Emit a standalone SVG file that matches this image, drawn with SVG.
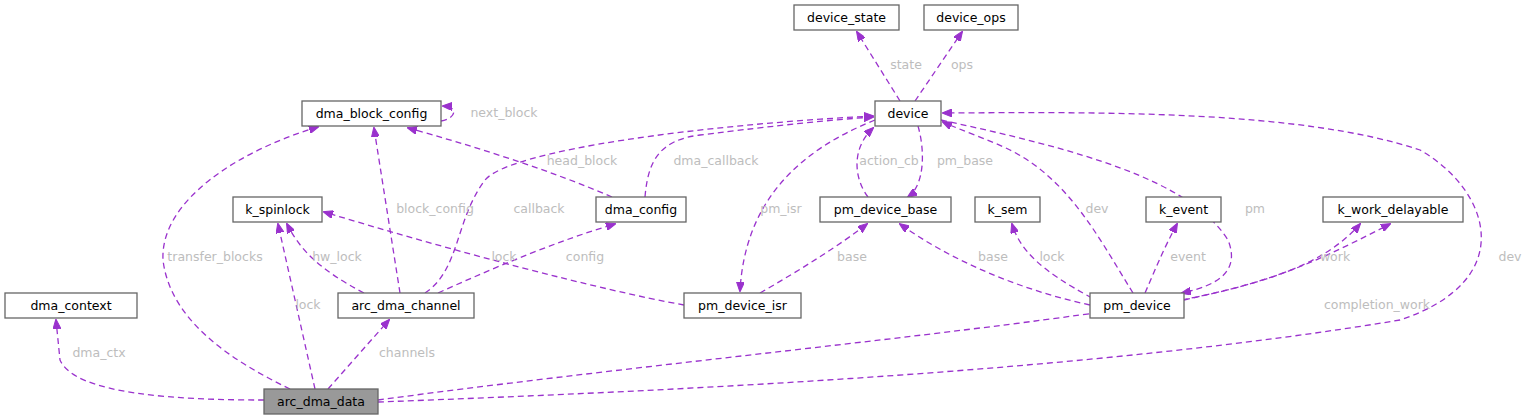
<svg xmlns="http://www.w3.org/2000/svg" width="1532" height="420" viewBox="0 0 1532 420">
<style>
.n rect{fill:#fff;stroke:#666;stroke-width:1.3}
.n text{font-family:"DejaVu Sans",sans-serif;font-size:12.5px;fill:#000;text-anchor:middle}
.e path{fill:none;stroke:#9a32cd;stroke-width:1.3;stroke-dasharray:6,4;marker-end:url(#a)}
.l text{font-family:"DejaVu Sans",sans-serif;font-size:12.5px;fill:#bdbdbd;text-anchor:middle}
</style>
<defs><marker id="a" markerWidth="10" markerHeight="8" refX="9" refY="4" orient="auto" markerUnits="userSpaceOnUse"><path d="M0,0L10,4L0,8Z" fill="#9a32cd" stroke="#9a32cd"/></marker></defs>
<rect width="1532" height="420" fill="#fff"/>
<g class="e">
<path d="M264,400C180,400 75,395 60,360L56,320"/>
<path d="M290,389C230,360 170,320 163,260C160,200 240,150 318,127"/>
<path d="M315,389L278,224"/>
<path d="M328,389L389,320"/>
<path d="M378,400C600,370 900,340 1080,315C1250,295 1300,270 1390,224"/>
<path d="M378,402C700,390 1100,370 1400,320C1520,280 1490,190 1420,150C1300,110 1100,112 943,113"/>
<path d="M400,293L374,128"/>
<path d="M364,293C320,270 300,250 287,224"/>
<path d="M438,293C500,265 560,240 615,224"/>
<path d="M425,293C460,270 455,220 485,180C510,150 700,125 873,116"/>
<path d="M612,197C550,170 470,145 408,128"/>
<path d="M645,197C648,160 660,140 700,135C780,125 830,120 873,117"/>
<path d="M441,121C455,119 460,107 443,106"/>
<path d="M900,101L857,32"/>
<path d="M915,101L962,32"/>
<path d="M875,120C800,150 745,200 740,291"/>
<path d="M918,126C925,150 925,185 908,197"/>
<path d="M868,197C855,180 850,150 873,128"/>
<path d="M760,293C800,270 840,245 867,224"/>
<path d="M684,305C600,290 450,250 324,212"/>
<path d="M1090,305C1020,290 950,260 900,224"/>
<path d="M1092,298C1040,270 1020,250 1012,224"/>
<path d="M1145,293C1155,270 1163,250 1177,224"/>
<path d="M1184,300C1250,285 1320,270 1360,224"/>
<path d="M1133,293C1100,240 1070,180 1010,150C990,140 960,130 943,122"/>
<path d="M941,120C1080,150 1190,180 1228,240C1240,270 1220,285 1182,293"/>
</g>
<g class="l">
<text x="99" y="357">dma_ctx</text>
<text x="215" y="261">transfer_blocks</text>
<text x="308" y="309">lock</text>
<text x="407" y="357">channels</text>
<text x="1377" y="309">completion_work</text>
<text x="1510" y="261">dev</text>
<text x="435" y="213">block_config</text>
<text x="337" y="261">hw_lock</text>
<text x="585" y="261">config</text>
<text x="539" y="213">callback</text>
<text x="582" y="165">head_block</text>
<text x="716" y="165">dma_callback</text>
<text x="504" y="117">next_block</text>
<text x="906" y="69">state</text>
<text x="962" y="69">ops</text>
<text x="781" y="213">pm_isr</text>
<text x="965" y="165">pm_base</text>
<text x="889" y="165">action_cb</text>
<text x="852" y="261">base</text>
<text x="504" y="261">lock</text>
<text x="993" y="261">base</text>
<text x="1052" y="261">lock</text>
<text x="1188" y="261">event</text>
<text x="1335" y="261">work</text>
<text x="1097" y="213">dev</text>
<text x="1255" y="213">pm</text>
</g>
<g id="device_state" class="n"><rect x="794" y="5" width="105" height="25"/><text x="846.5" y="22">device_state</text></g>
<g id="device_ops" class="n"><rect x="924" y="5" width="94" height="25"/><text x="971" y="22">device_ops</text></g>
<g id="device" class="n"><rect x="875" y="101" width="66" height="25"/><text x="908" y="118">device</text></g>
<g id="dma_block_config" class="n"><rect x="302" y="101" width="139" height="25"/><text x="371.5" y="118">dma_block_config</text></g>
<g id="k_spinlock" class="n"><rect x="233" y="197" width="89" height="25"/><text x="277.5" y="214">k_spinlock</text></g>
<g id="dma_config" class="n"><rect x="596" y="197" width="90" height="25"/><text x="641" y="214">dma_config</text></g>
<g id="pm_device_base" class="n"><rect x="820" y="197" width="131" height="25"/><text x="885.5" y="214">pm_device_base</text></g>
<g id="k_sem" class="n"><rect x="975" y="197" width="65" height="25"/><text x="1007.5" y="214">k_sem</text></g>
<g id="k_event" class="n"><rect x="1146" y="197" width="75" height="25"/><text x="1183.5" y="214">k_event</text></g>
<g id="k_work_delayable" class="n"><rect x="1323" y="197" width="140" height="25"/><text x="1393" y="214">k_work_delayable</text></g>
<g id="dma_context" class="n"><rect x="5" y="293" width="132" height="25"/><text x="71" y="310">dma_context</text></g>
<g id="arc_dma_channel" class="n"><rect x="338" y="293" width="136" height="25"/><text x="406" y="310">arc_dma_channel</text></g>
<g id="pm_device_isr" class="n"><rect x="684" y="293" width="117" height="25"/><text x="742.5" y="310">pm_device_isr</text></g>
<g id="pm_device" class="n"><rect x="1090" y="293" width="94" height="25"/><text x="1137" y="310">pm_device</text></g>
<g id="arc_dma_data" class="n"><rect x="264" y="389" width="114" height="25" style="fill:#999"/><text x="321" y="406">arc_dma_data</text></g>
</svg>
